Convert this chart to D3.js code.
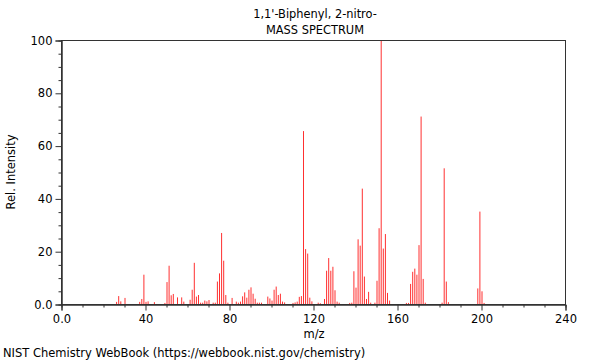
<!DOCTYPE html>
<html><head><meta charset="utf-8">
<script src="https://cdn.jsdelivr.net/npm/d3@7"></script>
<style>body{margin:0;background:#fff}svg{display:block}text{font-family:"DejaVu Sans",sans-serif;fill:#000}</style>
</head><body><svg id="c" width="600" height="360"></svg>
<script>
const titleLines = ["1,1'-Biphenyl, 2-nitro-", "MASS SPECTRUM"];
const xLabel = "m/z";
const yLabel = "Rel. Intensity";
const footer = "NIST Chemistry WebBook (https://webbook.nist.gov/chemistry)";
const xTicks = [0, 40, 80, 120, 160, 200, 240];
const yTicks = [0, 20, 40, 60, 80, 100];
const mz = [26,27,28,30,37,38,39,40,41,44,49,50,51,52,53,55,57,58,61,62,63,64,65,66,67,68,69,70,72,73,74,75,76,77,78,79,81,83,84,85,86,87,88,89,90,91,92,93,94,95,98,99,100,101,102,103,104,105,106,110,111,112,113,114,115,116,117,118,119,122,123,125,126,127,128,129,130,131,132,137,138,139,140,141,142,143,144,145,146,147,149,150,151,152,153,154,155,156,164,165,166,167,168,169,170,171,172,173,181,182,183,184,198,199,200,201];
const intensity = [0.8,3,1,2.3,0.8,1.9,11.1,0.8,1,0.7,0.4,8.3,14.5,3.3,3.8,2.5,2.5,0.9,1.6,5.4,15.6,2.8,3.4,0.5,0.5,1.3,1,1.5,0.5,0.5,8.5,11.6,26.9,16.4,3.4,0.5,2.3,0.9,0.5,0.9,2.9,4.4,2.4,5.4,6.3,3.9,2,0.5,0.5,0.5,2.8,2.1,1.3,5.4,6.6,3.4,3.9,0.9,0.6,0.4,0.6,0.9,2.7,3,65.5,20.8,19.1,2.4,1,0.5,0.3,1.9,12.6,17.4,12.6,14.1,5.2,0.9,0.5,0.4,0.5,12.4,6.2,24.5,22.1,43.7,10.4,1.9,4.6,0.5,0.5,8.8,28.7,100,21,26.5,4.2,1.3,0.4,0.4,7.6,12.2,13.4,11.1,22.3,71,9.5,0.5,0.5,51.4,8.5,0.7,5.9,35,4.8,0.4];

const svg = d3.select("#c");
const L = 62, R = 566, T = 40, B = 304;
const x = d3.scaleLinear().domain([0, 240]).range([L, R]);
const y = d3.scaleLinear().domain([0, 100]).range([B, T]);

// bars
svg.append("g").selectAll("line").data(mz).join("line")
  .attr("x1", d => x(d)).attr("x2", d => x(d))
  .attr("y1", B).attr("y2", (d, i) => y(intensity[i]))
  .attr("stroke", "#ff3030").attr("stroke-width", 1);

// frame
svg.append("rect").attr("x", L - 0.5).attr("y", T + 0.5).attr("width", R - L).attr("height", B - T)
  .attr("fill", "none").attr("stroke", "#333").attr("stroke-width", 1);

// x axis
const xa = svg.append("g").attr("transform", `translate(-0.5,${B + 0.5})`)
  .call(d3.axisBottom(x).tickValues(xTicks).tickSize(6).tickPadding(4));
xa.selectAll("text").text(d => d === 0 ? "0.0" : d);
const xm = svg.append("g").attr("transform", `translate(-0.5,${B + 0.5})`)
  .call(d3.axisBottom(x).tickValues(d3.range(0, 241, 10).filter(v => v % 40)).tickSize(3).tickFormat(""));
[xa, xm].forEach(g => { g.select(".domain").attr("stroke", "#333"); g.selectAll("line").attr("stroke", "#333"); });
xa.selectAll("text").attr("font-size", 11.5).attr("font-family", "DejaVu Sans");

// y axis
const ya = svg.append("g").attr("transform", `translate(${L - 0.5},0.5)`)
  .call(d3.axisLeft(y).tickValues(yTicks).tickSize(6).tickPadding(3));
ya.selectAll("text").text(d => d === 0 ? "0.0" : d);
const ym = svg.append("g").attr("transform", `translate(${L - 0.5},0.5)`)
  .call(d3.axisLeft(y).tickValues(d3.range(0, 101, 5).filter(v => v % 20)).tickSize(3).tickFormat(""));
[ya, ym].forEach(g => { g.select(".domain").attr("stroke", "#333"); g.selectAll("line").attr("stroke", "#333"); });
ya.selectAll("text").attr("font-size", 11.5).attr("font-family", "DejaVu Sans");

// titles
svg.selectAll(".title").data(titleLines).join("text").attr("class", "title")
  .attr("x", 315).attr("y", (d, i) => 18 + i * 16).attr("text-anchor", "middle")
  .attr("font-size", 11.4).text(d => d);
svg.append("text").attr("x", 314).attr("y", 338).attr("text-anchor", "middle").attr("font-size", 11.5).text(xLabel);
svg.append("text").attr("transform", "translate(15,172) rotate(-90)").attr("text-anchor", "middle").attr("font-size", 11.5).text(yLabel);
svg.append("text").attr("x", 3).attr("y", 357).attr("font-size", 11.5).text(footer);
</script></body></html>
